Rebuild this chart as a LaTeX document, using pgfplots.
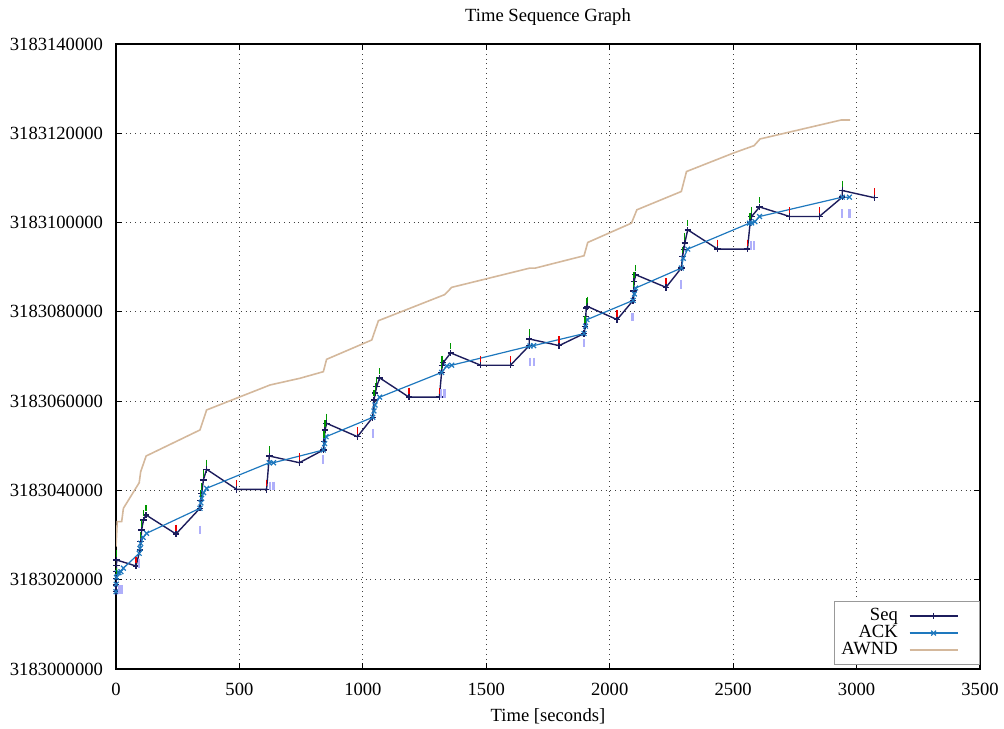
\documentclass[border=0pt]{standalone}
\usepackage{fontspec}
\setmainfont{Liberation Serif}
\usepackage{pgfplots}
\pgfplotsset{compat=1.18}
\definecolor{seqc}{RGB}{28,28,92}
\definecolor{ackc}{RGB}{30,120,190}
\definecolor{awndc}{RGB}{212,184,156}
\definecolor{greenc}{RGB}{0,150,0}
\definecolor{redc}{RGB}{235,0,0}
\definecolor{lavc}{RGB}{175,175,250}
\begin{document}
\begin{tikzpicture}[font=\fontsize{9.3}{11}\selectfont]
\useasboundingbox (-58pt,-29.5pt) rectangle (444pt,334.5pt);
\begin{axis}[at={(0,0)}, anchor=south west, scale only axis, width=432pt, height=312.5pt,
 xmin=0, xmax=3500, ymin=0, ymax=140000,
 xtick={0,500,...,3500}, ytick={0,20000,...,140000},
 yticklabels={3183000000,3183020000,3183040000,3183060000,3183080000,3183100000,3183120000,3183140000},
 scaled x ticks=false, scaled y ticks=false,
 /pgf/number format/assume math mode=true,
 /pgf/number format/set thousands separator={},
 tick align=inside, tick pos=both, major tick length=3pt,
 tick style={black, line width=0.5pt},
 grid=major, grid style={dotted, black!75, line width=0.55pt},
 axis line style={line width=0.9pt},
 yticklabel style={xshift=-3pt},
 xticklabel style={yshift=-3.5pt},
 title={Time Sequence Graph},
 title style={at={(0.5,1)}, anchor=center, yshift=7.5pt},
 xlabel={Time [seconds]},
 xlabel style={at={(0.5,0)}, anchor=center, yshift=-23.5pt},
 legend style={at={(1,0)}, anchor=south east, yshift=2pt, draw=black!40, fill=white,
   row sep=-2.2pt, column sep=4pt, inner xsep=2pt, inner ysep=2pt, nodes={inner sep=1.5pt},
   font=\fontsize{9.3}{11}\selectfont},
 legend cell align=right,
 legend plot pos=right,
 legend image code/.code={\draw[mark repeat=2,mark phase=2,#1] plot coordinates {(0pt,0pt) (12pt,0pt) (24pt,0pt)}; \path[draw=none,fill=none] (24pt,0pt) -- (33pt,0pt);},
]
\addplot[seqc, line width=0.7pt, mark=+, mark size=1.6pt, mark options={solid}] coordinates {
(0,17320)(0.5,18800)(1,20300)(1.5,21800)(2,23200)(2.5,24420)
(81,23070)
(97,26650)(100,28500)(104,31140)(111,33380)(122,34500)
(243,30240)
(340,36000)(343,37800)(347,39360)(354,42340)(367,44730)
(489,40250)(610,40250)
(621,47710)
(743,46210)
(840,49060)(843,51000)(847,53540)(853,55040)
(978,52040)
(1040,56380)(1045,60260)(1050,61800)(1056,63240)(1068,65210)
(1187,60890)(1310,60890)
(1319,66480)(1321,68050)(1325,68600)(1356,70800)
(1477,68050)(1598,68050)
(1674,72440)(1674,73930)
(1795,72440)
(1896,75130)(1900,76770)(1903,79000)(1905,80860)(1909,81240)
(2030,78260)
(2095,82580)(2097,84700)(2099,86830)(2105,88320)
(2228,85490)
(2290,89810)(2295,92420)(2300,94000)(2304,95400)(2316,98380)
(2437,94060)(2558,94060)
(2569,100040)(2575,101360)(2607,103500)
(2729,101360)(2849,101360)
(2942,105690)(2942,107180)
(3072,105570)
};
\addlegendentry{Seq}
\addplot[ackc, line width=0.6pt, mark=x, mark size=1.7pt, mark options={solid}] coordinates {
(0,17320)(1,19000)(2,20500)(6,21570)(12,21570)(20,21800)(30,22600)(94,25910)(97,27000)(100,28160)(110,29500)(124,30400)
(340,36000)(344,37200)(347,38240)(355,39500)(367,40480)(621,46210)(638,46210)(840,49060)(845,50500)(851,52040)
(1040,56380)(1045,57800)(1049,59140)(1068,60890)(1319,66430)(1340,67870)(1360,68050)(1677,72350)(1692,72440)
(1896,75130)(1902,76800)(1908,78260)(2095,82580)(2100,84000)(2105,85340)(2290,89810)(2298,92000)(2316,94060)
(2566,99870)(2575,99900)(2588,100200)(2607,101360)(2942,105690)(2971,105690)
};
\addlegendentry{ACK}
\addplot[awndc, line width=0.8pt] coordinates {
(0,27400)(5,33000)(23,33000)(30,36000)(94,41730)(100,44200)(122,47710)(340,53540)(367,58020)(624,63620)(745,65120)
(840,66600)(853,69370)(1036,73700)(1063,78020)(1331,83850)(1360,85490)(1677,89810)(1699,89810)(1896,92570)(1911,95550)
(2088,99870)(2110,102860)(2290,106960)(2311,111430)(2499,115530)(2585,117240)(2609,118730)(2938,122980)(2974,122980)
};
\addlegendentry{AWND}
\addplot[forget plot, only marks, greenc, mark=|, mark size=1.6pt, mark options={line width=0.7pt}] coordinates {
(2,25900)(1,22000)
(100,30000)(104,32600)(111,34900)(122,36000)
(343,39300)(347,40900)(354,43800)(367,46200)
(621,49200)
(843,52500)(847,55000)(853,56500)
(1045,61800)(1050,63300)(1056,64700)(1068,66700)
(1319,68000)(1321,69500)(1356,72300)
(1674,75400)
(1900,78300)(1905,82300)(1909,82700)
(2097,86200)(2099,88300)(2105,89800)
(2295,93900)(2304,96900)(2316,99900)
(2569,101500)(2575,102800)(2607,105000)
(2942,108700)
};
\addplot[forget plot, only marks, redc, mark=|, mark size=1.6pt, mark options={line width=0.7pt}] coordinates {
(81,24470)(243,31640)(489,41650)(610,41650)(743,47610)(978,53440)(1187,62290)(1310,62290)(1477,69450)(1598,69450)
(1795,73840)(2030,79660)(2228,86890)(2437,95460)(2558,95460)(2729,102760)(2849,102760)(3072,106970)
};
\addplot[forget plot, only marks, lavc, mark=|, mark size=2.2pt, mark options={line width=1.1pt}] coordinates {
(14,17850)(24,17850)(94,23670)(340,31140)(624,41000)(638,41000)(840,46970)(1040,52790)(1317,61640)(1331,61640)
(1677,68790)(1692,68790)(1896,73040)(2092,78850)(2290,86080)(2571,94810)(2585,94810)(2942,101960)(2971,101960)
};
\end{axis}
\end{tikzpicture}
\end{document}
